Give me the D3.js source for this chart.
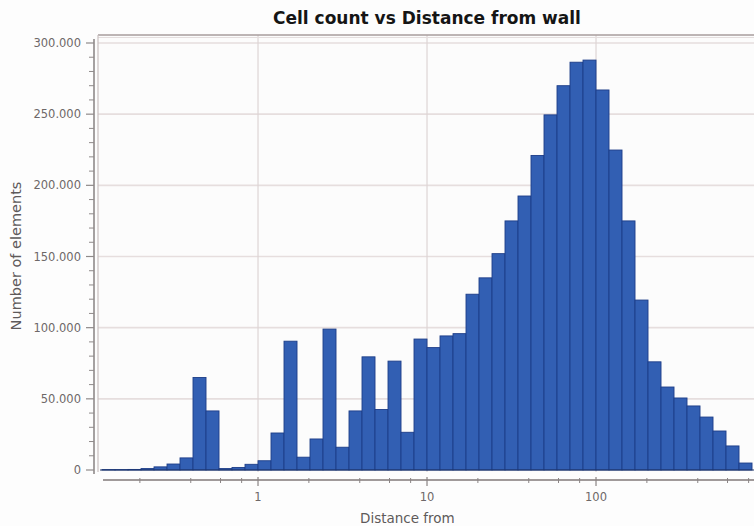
<!DOCTYPE html>
<html>
<head>
<meta charset="utf-8">
<script src="https://cdn.jsdelivr.net/npm/d3@7/dist/d3.min.js"></script>
<style>
  html, body { margin: 0; padding: 0; background: #fdfdfd; }
  svg { display: block; }
</style>
</head>
<body>
<svg id="chart" width="754" height="526"></svg>
<script>
// ---- Data ----
const title = "Cell count vs Distance from wall";
const xLabel = "Distance from";
const yLabel = "Number of elements";
// Histogram bins are equal in log space: 13 bins per decade.
// Bin k spans [10^(k/13), 10^((k+1)/13)]; first visible bin index:
const binsPerDecade = 13;
const firstBin = -12;
const counts = [
  300, 300, 400, 1000, 2200, 4200, 8500, 65000, 41500, 1000,
  1800, 4000, 6500, 26000, 90500, 9000, 21800, 99000, 16000, 41500,
  79500, 42500, 76500, 26500, 92000, 86000, 94200, 95800, 123500, 135000,
  152000, 175000, 192500, 221000, 249500, 270000, 286500, 288000, 267000, 224800,
  175000, 119400, 76000, 58300, 50600, 45000, 37200, 27400, 16900, 4900
];
const xMajorTicks = [1, 10, 100];
const xMinorTicks = [0.2, 0.4, 0.6, 0.8, 2, 4, 6, 8, 20, 40, 60, 80, 200, 400, 600, 800];
const yMajorTicks = [0, 50000, 100000, 150000, 200000, 250000, 300000];
const yMinorStep = 10000;

const bins = counts.map((c, i) => {
  const k = firstBin + i;
  return { x0: Math.pow(10, k / binsPerDecade), x1: Math.pow(10, (k + 1) / binsPerDecade), count: c };
});

// ---- Layout ----
const plotLeft = 98, plotTop = 35, plotBottom = 472, plotRight = 754;
const svg = d3.select("#chart");

const x = d3.scaleLog().domain([0.1115, 934]).range([97, 760]);
const y = d3.scaleLinear().domain([0, 300000]).range([470, 43]);

const fmt = v => d3.format(",")(v).replace(/,/g, ".");

// plot background
svg.append("rect").attr("x", plotLeft).attr("y", plotTop)
  .attr("width", plotRight - plotLeft).attr("height", plotBottom - plotTop)
  .attr("fill", "#fcfcfc");

svg.append("defs").append("clipPath").attr("id", "clip")
  .append("rect").attr("x", plotLeft).attr("y", plotTop)
  .attr("width", plotRight - plotLeft).attr("height", plotBottom - plotTop + 2);

const g = svg.append("g").attr("clip-path", "url(#clip)");

// grid lines
g.selectAll("line.hgrid").data(yMajorTicks.filter(d => d > 0)).join("line")
  .attr("x1", plotLeft).attr("x2", plotRight)
  .attr("y1", d => y(d)).attr("y2", d => y(d))
  .attr("stroke", "#e6dede").attr("stroke-width", 1.6);
g.selectAll("line.vgrid").data(xMajorTicks).join("line")
  .attr("x1", d => x(d)).attr("x2", d => x(d))
  .attr("y1", plotTop).attr("y2", plotBottom)
  .attr("stroke", "#ddd4d4").attr("stroke-width", 1.2);

// bars
g.selectAll("rect.bar").data(bins).join("rect")
  .attr("x", d => x(d.x0))
  .attr("width", d => x(d.x1) - x(d.x0))
  .attr("y", d => y(d.count))
  .attr("height", d => y(0) - y(d.count))
  .attr("fill", "#325fb3")
  .attr("stroke", "#1d3d88")
  .attr("stroke-width", 0.9);

// baseline
g.append("line").attr("x1", plotLeft + 2).attr("x2", plotRight)
  .attr("y1", y(0)).attr("y2", y(0))
  .attr("stroke", "#1f3566").attr("stroke-width", 1.2);

// frame: top and left
svg.append("line").attr("x1", plotLeft).attr("x2", plotRight)
  .attr("y1", plotTop).attr("y2", plotTop)
  .attr("stroke", "#a79d9d").attr("stroke-width", 1.6);
svg.append("line").attr("x1", plotLeft).attr("x2", plotRight)
  .attr("y1", plotTop + 2.5).attr("y2", plotTop + 2.5)
  .attr("stroke", "#e4dede").attr("stroke-width", 1);
svg.append("line").attr("x1", plotLeft).attr("x2", plotLeft)
  .attr("y1", plotTop).attr("y2", plotBottom)
  .attr("stroke", "#c9c0c0").attr("stroke-width", 1.2);

// ---- Y axis ----
const yAxisX = 94;
svg.append("line").attr("x1", yAxisX).attr("x2", yAxisX)
  .attr("y1", y(300000) - 4).attr("y2", y(0) + 4)
  .attr("stroke", "#8f8a8a").attr("stroke-width", 1.6);
const yMinor = d3.range(0, 300001, yMinorStep).filter(v => v % 50000 !== 0);
svg.selectAll("line.yminor").data(yMinor).join("line")
  .attr("x1", yAxisX - 5).attr("x2", yAxisX)
  .attr("y1", d => y(d)).attr("y2", d => y(d))
  .attr("stroke", "#8f8a8a").attr("stroke-width", 1);
svg.selectAll("line.ymajor").data(yMajorTicks).join("line")
  .attr("x1", yAxisX - 8).attr("x2", yAxisX)
  .attr("y1", d => y(d)).attr("y2", d => y(d))
  .attr("stroke", "#8f8a8a").attr("stroke-width", 1.2);
svg.selectAll("text.ylab").data(yMajorTicks).join("text")
  .attr("x", 81).attr("y", d => y(d)).attr("dy", "0.35em")
  .attr("text-anchor", "end")
  .attr("font-family", "DejaVu Sans, Verdana, sans-serif")
  .attr("font-size", 11.5).attr("fill", "#6e6868")
  .text(d => fmt(d));

svg.append("text")
  .attr("transform", "translate(21,256) rotate(-90)")
  .attr("text-anchor", "middle")
  .attr("font-family", "DejaVu Sans, Verdana, sans-serif")
  .attr("font-size", 14.5).attr("fill", "#5e5a5a")
  .text(yLabel);

// ---- X axis ----
const xAxisY = 480;
svg.append("line").attr("x1", 103).attr("x2", plotRight)
  .attr("y1", xAxisY).attr("y2", xAxisY)
  .attr("stroke", "#a09a9a").attr("stroke-width", 2);
svg.selectAll("line.xminor").data(xMinorTicks).join("line")
  .attr("x1", d => x(d)).attr("x2", d => x(d))
  .attr("y1", xAxisY - 2).attr("y2", xAxisY + 3)
  .attr("stroke", "#8a8484").attr("stroke-width", 1);
svg.selectAll("line.xmajor").data(xMajorTicks).join("line")
  .attr("x1", d => x(d)).attr("x2", d => x(d))
  .attr("y1", xAxisY - 3).attr("y2", xAxisY + 6)
  .attr("stroke", "#8a8484").attr("stroke-width", 1.2);
svg.selectAll("text.xlab").data(xMajorTicks).join("text")
  .attr("x", d => x(d)).attr("y", 497).attr("dy", "0.35em")
  .attr("text-anchor", "middle")
  .attr("font-family", "DejaVu Sans, Verdana, sans-serif")
  .attr("font-size", 11.5).attr("fill", "#6e6868")
  .text(d => d);

svg.append("text")
  .attr("x", 360).attr("y", 518).attr("dy", "0.35em")
  .attr("text-anchor", "start")
  .attr("font-family", "DejaVu Sans, Verdana, sans-serif")
  .attr("font-size", 13.5).attr("fill", "#5e5a5a")
  .text(xLabel);

// ---- Title ----
svg.append("text")
  .attr("x", 427).attr("y", 18).attr("dy", "0.35em")
  .attr("text-anchor", "middle")
  .attr("font-family", "DejaVu Sans, Verdana, sans-serif")
  .attr("font-weight", "bold")
  .attr("font-size", 17).attr("fill", "#151515")
  .text(title);
</script>
</body>
</html>
